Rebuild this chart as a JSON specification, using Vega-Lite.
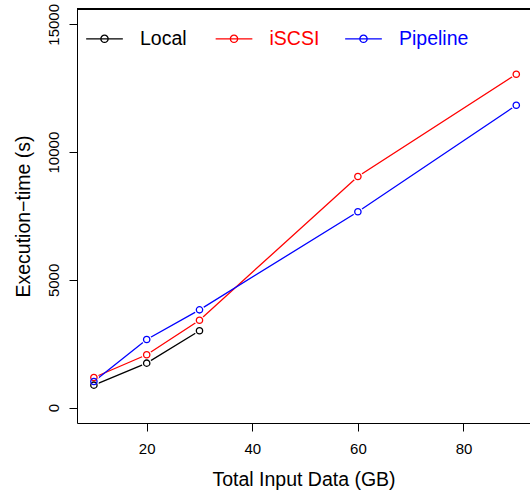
{
  "$schema": "https://vega.github.io/schema/vega-lite/v6.json",
  "width": 453,
  "height": 414,
  "autosize": {"type": "none"},
  "padding": {"left": 77, "top": 9, "right": 0, "bottom": 71},
  "background": "white",
  "config": {
    "view": {"stroke": null},
    "font": "Liberation Sans",
    "axis": {
      "grid": false,
      "domainColor": "black",
      "tickColor": "black",
      "labelColor": "black",
      "titleColor": "black",
      "domainWidth": 1,
      "tickWidth": 1,
      "tickSize": 8,
      "labelFontSize": 15,
      "titleFontSize": 19.5,
      "titleFontWeight": "normal",
      "labelFont": "Liberation Sans",
      "titleFont": "Liberation Sans"
    }
  },
  "data": {
    "values": [
      {"series": "Local", "gb": 10, "time": 880},
      {"series": "Local", "gb": 20, "time": 1742},
      {"series": "Local", "gb": 30, "time": 3008},
      {"series": "iSCSI", "gb": 10, "time": 1180},
      {"series": "iSCSI", "gb": 20, "time": 2070},
      {"series": "iSCSI", "gb": 30, "time": 3422},
      {"series": "iSCSI", "gb": 60, "time": 9047},
      {"series": "iSCSI", "gb": 90, "time": 13047},
      {"series": "Pipeline", "gb": 10, "time": 1025},
      {"series": "Pipeline", "gb": 20, "time": 2668},
      {"series": "Pipeline", "gb": 30, "time": 3828},
      {"series": "Pipeline", "gb": 60, "time": 7668},
      {"series": "Pipeline", "gb": 90, "time": 11836}
    ]
  },
  "encoding": {
    "x": {
      "field": "gb",
      "type": "quantitative",
      "scale": {"domain": [6.8, 92.6], "nice": false, "zero": false},
      "axis": {
        "values": [20, 40, 60, 80],
        "title": "Total Input Data (GB)",
        "labelPadding": 10,
        "titlePadding": 14
      }
    },
    "y": {
      "field": "time",
      "type": "quantitative",
      "scale": {"domain": [-600, 15600], "nice": false, "zero": false},
      "axis": {
        "values": [0, 5000, 10000, 15000],
        "format": "d",
        "title": "Execution−time (s)",
        "labelAngle": 270,
        "labelAlign": "center",
        "labelBaseline": "bottom",
        "labelPadding": 8,
        "titlePadding": 13
      }
    }
  },
  "layer": [
    {
      "mark": {"type": "rule", "color": "black", "strokeWidth": 1},
      "encoding": {"x": null, "y": {"datum": 15600}}
    },
    {
      "mark": {"type": "line", "strokeWidth": 1.3},
      "encoding": {
        "color": {
          "field": "series",
          "type": "nominal",
          "sort": ["Local", "iSCSI", "Pipeline"],
          "scale": {"domain": ["Local", "iSCSI", "Pipeline"], "range": ["#000000", "#FF0000", "#0000FF"]},
          "legend": {
            "orient": "none",
            "legendX": 8,
            "legendY": 10.3,
            "direction": "horizontal",
            "columns": 3,
            "gridAlign": "all",
            "columnPadding": 2.5,
            "padding": 0,
            "title": null,
            "symbolType": "M-1,0H1M0.2,0A0.2,0.2 0 1 1 -0.2,0A0.2,0.2 0 1 1 0.2,0",
            "symbolSize": 1347,
            "symbolStrokeWidth": 1.3,
            "symbolFillColor": "transparent",
            "labelFontSize": 19.5,
            "labelFont": "Liberation Sans",
            "labelOffset": 16,
            "labelLimit": 200,
            "encode": {
              "labels": {"update": {"fill": {"scale": "color", "field": "value"}}},
              "symbols": {"update": {"fill": {"value": "transparent"}, "stroke": {"scale": "color", "field": "value"}}}
            }
          }
        }
      }
    },
    {
      "mark": {"type": "point", "shape": "circle", "filled": true, "size": 100, "color": "white", "opacity": 1, "strokeWidth": 0}
    },
    {
      "mark": {"type": "point", "shape": "circle", "filled": false, "size": 40, "strokeWidth": 1.3, "opacity": 1},
      "encoding": {
        "color": {"field": "series", "type": "nominal"}
      }
    }
  ]
}
